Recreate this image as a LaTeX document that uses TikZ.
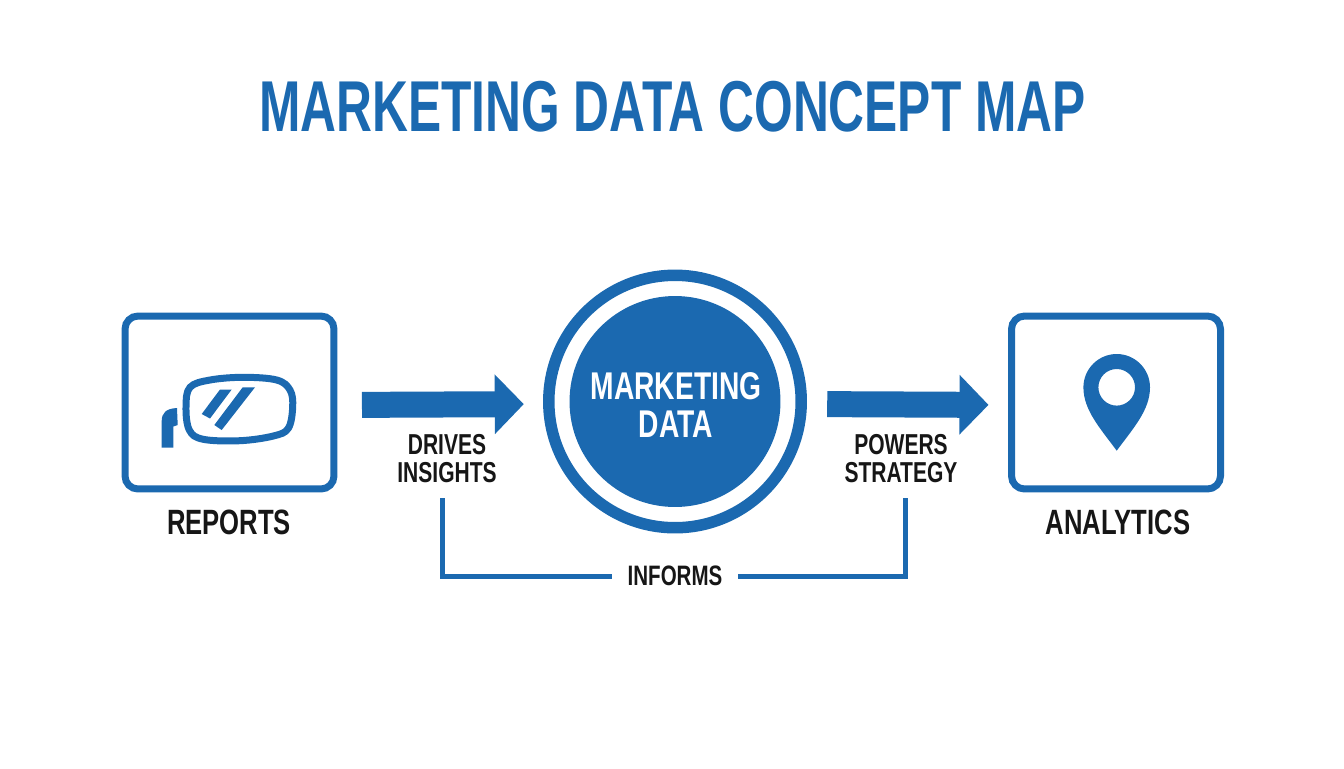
\documentclass[tikz,border=0pt]{standalone}
\usepackage{fontspec}
\setmainfont{Liberation Sans}[FakeStretch=0.73]
\newfontfamily\titlefont{Liberation Sans}[FakeStretch=0.69]
\usetikzlibrary{arrows.meta, positioning}
\definecolor{mapblue}{HTML}{1B69B0}
\definecolor{mapink}{HTML}{161616}

\begin{document}
\begin{tikzpicture}[x=0.02cm, y=-0.02cm]
      \tikzstyle{panel} = [draw=mapblue, line width=0.14cm, rounded corners=0.26cm, minimum width=4.18cm, minimum height=3.46cm, inner sep=0pt, outer sep=0pt]
      \tikzstyle{caption} = [text=mapink, font=\bfseries\fontsize{20}{24}\selectfont, inner sep=0pt]
      \tikzstyle{edgetext} = [text=mapink, align=center, font=\bfseries\fontsize{16.4}{16.4}\selectfont, inner sep=0pt]
      \tikzstyle{flow} = [draw=mapblue, line width=0.52cm, -{Triangle[length=0.58cm, width=1.16cm]}]
      \tikzstyle{link} = [draw=mapblue, line width=0.1cm]
      \useasboundingbox (0,0) rectangle (1344,768);

      \node[text=mapblue, font=\titlefont\bfseries\fontsize{41}{48}\selectfont, inner sep=0pt] (title) at (672.5,107) {MARKETING DATA CONCEPT MAP};

      \node[panel] (reports) at (229.5,402.5) {};
      \node[panel] (analytics) at (1116,402.5) {};
      \node[caption] (reportslabel) at (229,522) {REPORTS};
      \node[caption] (analyticslabel) at (1118,522) {ANALYTICS};

      \node[circle, draw=mapblue, line width=0.23cm, minimum size=5.05cm, inner sep=0pt, outer sep=0pt] (hubring) at (675,401.5) {};
      \node[circle, fill=mapblue, minimum size=4.22cm, inner sep=0pt] (hub) at (675,401.5) {};
      \node[text=white, align=center, font=\bfseries\fontsize{22}{21.6}\selectfont, inner sep=0pt] (hubtext) at (676,405) {MARKETING\\DATA};

      % arrows, a little under the middle of the boxes
      \draw[flow, shorten <=0.56cm, shorten >=0.5cm] ([yshift=-0.05cm]reports.east) -- ([yshift=-0.05cm]hubring.west);
      \draw[flow, shorten <=0.52cm, shorten >=0.46cm] ([yshift=-0.05cm]hubring.east) -- ([yshift=-0.05cm]analytics.west);

      \node[edgetext] (drives) at (447,458.5) {DRIVES\\INSIGHTS};
      \node[edgetext] (powers) at (901,458.5) {POWERS\\STRATEGY};

      \node[text=mapink, font=\bfseries\fontsize{16}{18}\selectfont, minimum width=2.52cm, inner sep=0pt] (informs) at (675,576) {INFORMS};
      \coordinate (drivesfoot) at (442.5,498);
      \coordinate (powersfoot) at (905,498);
      \draw[link] (drivesfoot) |- (informs.west);
      \draw[link] (powersfoot) |- (informs.east);

      % mirror
      \draw[mapblue, line width=0.14cm] plot[smooth cycle, tension=0.6] coordinates {
        (210,380) (243.3,377.3) (276.7,380) (290,390) (292.7,406.7) (288.3,428.3)
        (273.3,436) (240,440.7) (203.3,439.3) (189.3,430) (186,406.7) (190,387.3)
      };
      \foreach \ax/\ay/\bx/\by/\cx/\cy/\dx/\dy in {
        220/389.5/231.7/389.5/210/418.5/201.7/414,
        242.7/387.3/255/387.3/221.7/430/214.3/425
      } {
        \fill[mapblue] (\ax,\ay) -- (\bx,\by) -- (\cx,\cy) -- (\dx,\dy) -- cycle;
      }
      \fill[mapblue] (161.7,447.7) -- (161.7,421) .. controls (161.7,413) and (166,408.5) .. (177,408) -- (177.7,425) -- (173.3,426.5) -- (173.3,447.7) -- cycle;

      % pin
      \fill[mapblue, even odd rule] (1116.7,450.7) .. controls (1100,428) and (1083.4,410) .. (1083.4,387.3) .. controls (1083.4,369) and (1098.3,354) .. (1116.7,354) .. controls (1135,354) and (1150,369) .. (1150,387.3) .. controls (1150,410) and (1133.4,428) .. (1116.7,450.7) -- cycle (1116.7,387.3) circle[radius=18.3];
    \end{tikzpicture}
\end{document}
